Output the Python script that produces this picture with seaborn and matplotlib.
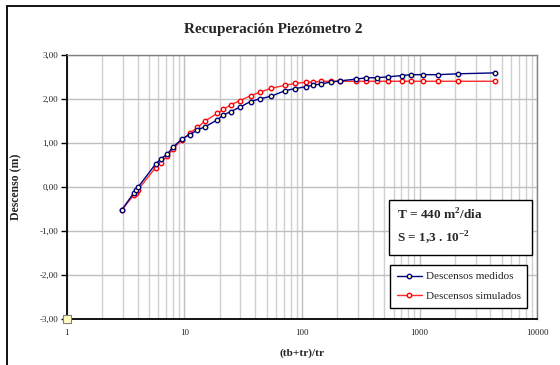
import numpy as np
import pandas as pd
import matplotlib
matplotlib.use("Agg")
import matplotlib.pyplot as plt
from matplotlib.patches import Rectangle
from matplotlib.ticker import FixedLocator, FixedFormatter, LogLocator, NullFormatter
import seaborn as sns

# (tb+tr)/tr ratio for each reading
ratio = [2.93, 3.73, 3.91, 4.06, 5.70, 6.28, 7.17, 8.06, 9.48, 11.1, 12.9, 15.1,
         19.0, 21.4, 24.7, 29.6, 36.5, 43.8, 54.7, 72.4, 86.9, 109, 124, 145,
         175, 212, 290, 353, 430, 535, 710, 851, 1066, 1443, 2133, 4340]
# measured drawdown (m)
medidos = [-0.52, -0.12, -0.06, 0.01, 0.53, 0.64, 0.76, 0.92, 1.09, 1.20, 1.30, 1.38,
           1.53, 1.64, 1.72, 1.82, 1.95, 2.01, 2.07, 2.20, 2.24, 2.29, 2.32, 2.35,
           2.39, 2.42, 2.46, 2.49, 2.49, 2.51, 2.54, 2.56, 2.56, 2.56, 2.58, 2.60]
# simulated drawdown (m)
simulados = [-0.52, -0.17, -0.12, -0.05, 0.45, 0.56, 0.71, 0.88, 1.07, 1.23, 1.36, 1.51,
             1.68, 1.77, 1.87, 1.97, 2.08, 2.16, 2.25, 2.32, 2.36, 2.39, 2.39, 2.41,
             2.41, 2.41, 2.41, 2.41, 2.41, 2.41, 2.41, 2.41, 2.41, 2.41, 2.41, 2.41]
# origin reference point
origen_x = [1]
origen_y = [-3.0]

y_ticks = [-3, -2, -1, 0, 1, 2, 3]
y_labels = ["-3,00", "-2,00", "-1,00", "0,00", "1,00", "2,00", "3,00"]
x_ticks = [1, 10, 100, 1000, 10000]
x_labels = ["1", "10", "100", "1000", "10000"]

df = pd.DataFrame({"ratio": ratio, "medidos": medidos, "simulados": simulados})

sns.set_theme(style="white")
plt.rcParams["font.family"] = ["Liberation Serif", "DejaVu Serif"]
plt.rcParams["mathtext.fontset"] = "custom"
plt.rcParams["mathtext.rm"] = "Liberation Serif"
plt.rcParams["mathtext.bf"] = "Liberation Serif:bold"

W, H = 560, 365
fig = plt.figure(figsize=(W / 100, H / 100), dpi=100)
fig.patch.set_facecolor("white")

def fx(px):
    return px / W

def fy(py):
    return 1 - py / H

ax = fig.add_axes([fx(66.7), fy(319.3), fx(537.3) - fx(66.7), fy(55.3) - fy(319.3)])
ax.set_facecolor("white")

sns.lineplot(data=df, x="ratio", y="medidos", ax=ax, sort=False, color="#000080",
             lw=1.0, marker="o", markersize=3.2, markerfacecolor="#ffffb0",
             markeredgecolor="#000080", markeredgewidth=1.0,
             label="Descensos medidos", zorder=4)
sns.lineplot(data=df, x="ratio", y="simulados", ax=ax, sort=False, color="#ff2a2a",
             lw=1.0, marker="o", markersize=3.2, markerfacecolor="#fff4f4",
             markeredgecolor="#ff0000", markeredgewidth=1.0,
             label="Descensos simulados", zorder=3)
sns.scatterplot(x=origen_x, y=origen_y, ax=ax, marker="s", s=30,
                color="#ffffc0", edgecolor="#808080", linewidth=0.8,
                clip_on=False, zorder=6, legend=False)

ax.set_xscale("log")
ax.set_xlim(1, 10000)
ax.set_ylim(-3, 3)

# grid
ax.xaxis.set_major_locator(FixedLocator(x_ticks))
ax.xaxis.set_major_formatter(FixedFormatter(x_labels))
ax.xaxis.set_minor_locator(LogLocator(base=10, subs=np.arange(2, 10)))
ax.xaxis.set_minor_formatter(NullFormatter())
ax.yaxis.set_major_locator(FixedLocator(y_ticks))
ax.yaxis.set_major_formatter(FixedFormatter(y_labels))
ax.grid(True, which="major", axis="both", color="#c0c0c0", lw=1.0)
ax.grid(True, which="minor", axis="x", color="#d0d0d0", lw=1.0)
ax.set_axisbelow(True)

ax.tick_params(axis="y", which="major", direction="out", length=4, width=1,
               color="black", labelsize=6.5, pad=2, left=True)
ax.tick_params(axis="x", which="both", length=0, labelsize=6.5, pad=7)

for side in ("left", "bottom"):
    ax.spines[side].set_color("black")
    ax.spines[side].set_linewidth(1.3)
for side in ("top", "right"):
    ax.spines[side].set_color("#808080")
    ax.spines[side].set_linewidth(1.0)

ax.set_xlabel("(tb+tr)/tr", fontsize=8.2, fontweight="bold", labelpad=8)
ax.set_ylabel("")
fig.text(fx(16), fy(187), "Descenso (m)", rotation=90, fontsize=8.5,
         fontweight="bold", ha="center", va="center")

fig.text(fx(273), fy(30), "Recuperación Piezómetro 2", fontsize=11,
         fontweight="bold", ha="center", va="center")

# outer chart frame
fig.patches.append(Rectangle((fx(7), -0.1), 2, fy(6) + 0.1, transform=fig.transFigure,
                             fill=False, edgecolor="black", lw=1.3, zorder=10))

# parameter box
fig.patches.append(Rectangle((fx(389), fy(255)), fx(532) - fx(389), fy(200) - fy(255),
                             transform=fig.transFigure, facecolor="white",
                             edgecolor="black", lw=1.0, zorder=7))
fig.text(fx(397), fy(215), r"T = 440 m$^{\mathbf{2}}$/dia", fontsize=9.5,
         fontweight="bold", ha="left", va="center", zorder=8)
fig.text(fx(397), fy(238), r"S = 1,3 . 10$^{\mathbf{-2}}$", fontsize=9.5,
         fontweight="bold", ha="left", va="center", zorder=8)

leg = ax.legend(loc="upper left", bbox_to_anchor=(fx(390), fy(265)),
                bbox_transform=fig.transFigure, fontsize=8, frameon=True,
                fancybox=False, framealpha=1, edgecolor="black",
                handlelength=2.3, handletextpad=0.3, borderpad=0.6,
                labelspacing=0.9, borderaxespad=0)
leg.get_frame().set_linewidth(1.0)
leg.set_zorder(9)

fig.savefig("out.png", dpi=100)
